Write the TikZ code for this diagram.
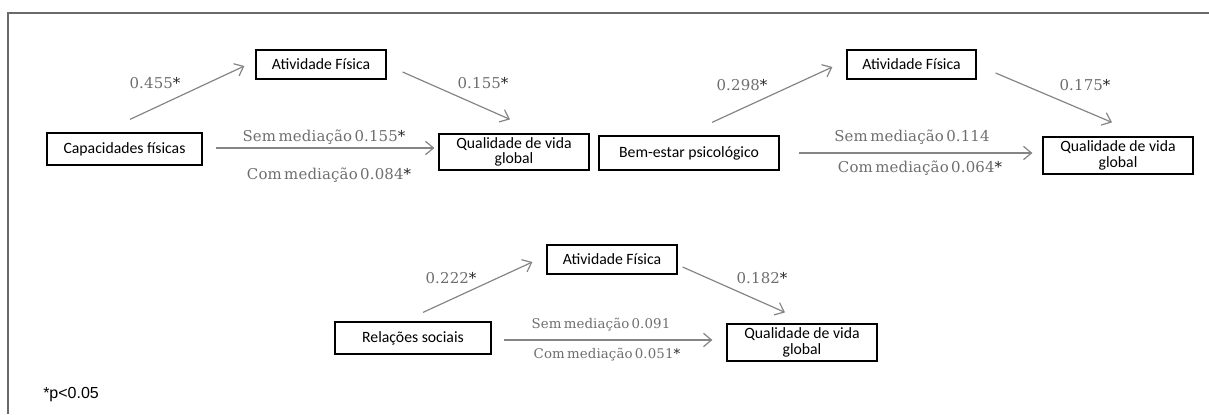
\documentclass[tikz,border=0pt]{standalone}
\usepackage{fontspec}
\setmainfont{Carlito}
\newfontfamily\boxfont{Carlito}
\newfontfamily\lblfont[LetterSpace=1,WordSpace=0.5]{DejaVu Serif}
\newfontfamily\notefont{Liberation Sans}
\usetikzlibrary{arrows.meta}
\definecolor{lblgray}{HTML}{6E6E6E}
\definecolor{arrgray}{HTML}{858585}
\definecolor{framegray}{HTML}{6A6A6A}
\newcommand{\st}{\textcolor{black!85}{*}}
\begin{document}
\begin{tikzpicture}[x=0.75pt,y=-0.75pt,
  box/.style={draw=black,line width=0.9pt,fill=white,inner sep=0pt,align=center,
    font=\boxfont\fontsize{11.8}{11.5}\selectfont},
  conn/.style={draw=arrgray,line width=0.9pt,
    -{Straight Barb[length=6pt,width=10pt,line width=0.9pt]}},
  lbl/.style={text=lblgray,inner sep=0pt,font=\lblfont\fontsize{11.2}{13}\selectfont},
  lblsm/.style={text=lblgray,inner sep=0pt,font=\lblfont\fontsize{10}{12}\selectfont},
  note/.style={inner sep=0pt,anchor=west,font=\notefont\fontsize{12}{14}\selectfont}
]
\useasboundingbox (0,0) rectangle (1209,414);
\draw[framegray,line width=1.5pt] (7.5,414) -- (7.5,12.5) -- (1209,12.5);

% Block 1
\node[box,minimum width=116.25pt,minimum height=24pt] (cap) at (124.5,149) {Capacidades físicas};
\node[box,minimum width=97.5pt,minimum height=21.75pt] (atv1) at (321,64.5) {Atividade Física};
\node[box,minimum width=112.5pt,minimum height=27pt] (qual1) at (514,152) {Qualidade de vida\\global};
\draw[conn] ([shift={(5.5,-13)}]cap.north) -- ([shift={(-11,1.5)}]atv1.west);
\draw[conn] ([shift={(16,7.5)}]atv1.east) -- ([shift={(-4,-14)}]qual1.north);
\draw[conn] ([shift={(13,-1)}]cap.east) -- ([shift={(-4,-4)}]qual1.west);
\node[lbl] (l1a) at (155,83) {0.455\st};
\node[lbl] (l1b) at (483,83) {0.155\st};
\node[lbl] (l1c) at (324,137) {Sem mediação 0.155\st};
\node[lbl] (l1d) at (329,175) {Com mediação 0.084\st};

% Block 2
\node[box,minimum width=135pt,minimum height=25.5pt] (bem) at (689,153) {Bem-estar psicológico};
\node[box,minimum width=96.75pt,minimum height=21.75pt] (atv2) at (911.5,64.5) {Atividade Física};
\node[box,minimum width=112.5pt,minimum height=27.75pt] (qual2) at (1118,155.5) {Qualidade de vida\\global};
\draw[conn] ([shift={(23,-13)}]bem.north) -- ([shift={(-14,2.5)}]atv2.west);
\draw[conn] ([shift={(19,8.5)}]atv2.east) -- ([shift={(-6,-14)}]qual2.north);
\draw[conn] ([shift={(19,0)}]bem.east) -- ([shift={(-10,-2.5)}]qual2.west);
\node[lbl] (l2a) at (742,85) {0.298\st};
\node[lbl] (l2b) at (1085,85) {0.175\st};
\node[lbl] (l2c) at (912,137) {Sem mediação 0.114};
\node[lbl] (l2d) at (920,168) {Com mediação 0.064\st};

% Block 3
\node[box,minimum width=117pt,minimum height=24pt] (rel) at (413,338) {Relações sociais};
\node[box,minimum width=97.5pt,minimum height=21.75pt] (atv3) at (612,259.5) {Atividade Física};
\node[box,minimum width=112.5pt,minimum height=27.75pt] (qual3) at (802,342.5) {Qualidade de vida\\global};
\draw[conn] ([shift={(10,-9)}]rel.north) -- ([shift={(-14,2.5)}]atv3.west);
\draw[conn] ([shift={(5,7.5)}]atv3.east) -- ([shift={(-17,-11)}]qual3.north);
\draw[conn] ([shift={(12,2)}]rel.east) -- ([shift={(-14,-2.5)}]qual3.west);
\node[lbl] (l3a) at (451,278) {0.222\st};
\node[lbl] (l3b) at (762,278) {0.182\st};
\node[lblsm] (l3c) at (601,325) {Sem mediação 0.091};
\node[lblsm] (l3d) at (607,355) {Com mediação 0.051\st};

\node[note] (pnote) at (43,395) {*p<0.05};
\end{tikzpicture}
\end{document}
